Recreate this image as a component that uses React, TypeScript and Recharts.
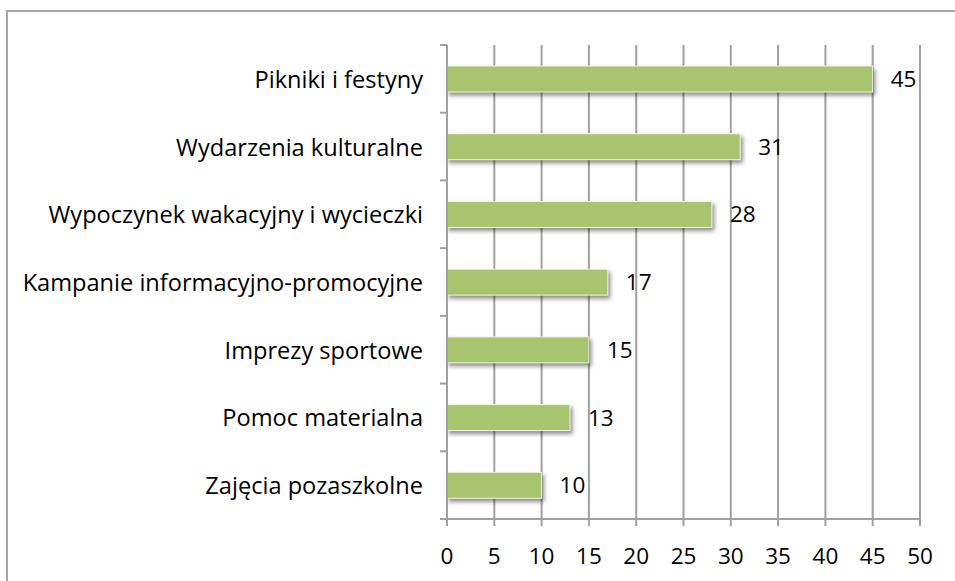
import React from 'react';
import { BarChart, Bar, XAxis, YAxis, CartesianGrid, LabelList } from 'recharts';

const categories = [
  'Pikniki i festyny',
  'Wydarzenia kulturalne',
  'Wypoczynek wakacyjny i wycieczki',
  'Kampanie informacyjno-promocyjne',
  'Imprezy sportowe',
  'Pomoc materialna',
  'Zajęcia pozaszkolne',
];
const values = [45, 31, 28, 17, 15, 13, 10];
const xTicks = [0, 5, 10, 15, 20, 25, 30, 35, 40, 45, 50];

const data = categories.map((name, i) => ({ name, value: values[i] }));

const FONT = '"Open Sans", sans-serif';
const FS = 22.5;
const CAT_FS = 23.6;
const GRAY = '#a0a0a0';

const YTick = (props: any) => {
  const { x, y, payload, index } = props;
  const off = payload.offset || 0;
  const last = index === categories.length - 1;
  return (
    <g>
      <line x1={x - 7} x2={x} y1={y - off} y2={y - off} stroke={GRAY} strokeWidth={2} />
      {last && <line x1={x - 7} x2={x} y1={y + off} y2={y + off} stroke={GRAY} strokeWidth={2} />}
      <text x={x - 24} y={y} dy={9} textAnchor="end" fontSize={CAT_FS} fontFamily={FONT} fill="#000">
        {payload.value}
      </text>
    </g>
  );
};

const BarShape = (props: any) => {
  const { x, y, width, height } = props;
  return (
    <rect
      x={x}
      y={y}
      width={width}
      height={height}
      fill="#a9c46e"
      stroke="#f4f8ec"
      strokeWidth={1}
      style={{ filter: 'drop-shadow(2px 3px 2px rgba(0,0,0,0.45))' }}
    />
  );
};

export default function App() {
  return (
    <div style={{ position: 'absolute', left: 0, top: 0, width: 955, height: 581, overflow: 'hidden', background: '#fff' }}>
      <div
        style={{
          position: 'absolute',
          left: 6,
          top: 10,
          width: 1000,
          height: 600,
          border: '2px solid #a6a6a6',
        }}
      />
      <div style={{ position: 'absolute', left: 0, top: 0 }}>
        <BarChart
          width={955}
          height={581}
          data={data}
          layout="vertical"
          margin={{ top: 45, right: 35, bottom: 0, left: 0 }}
          barCategoryGap="31%"
        >
          <CartesianGrid horizontal={false} vertical={true} stroke={GRAY} strokeWidth={2} />
          <XAxis
            type="number"
            domain={[0, 50]}
            ticks={xTicks}
            interval={0}
            height={62}
            axisLine={{ stroke: GRAY, strokeWidth: 2 }}
            tickLine={{ stroke: GRAY, strokeWidth: 2 }}
            tickSize={7}
            tickMargin={22}
            tick={{ fontSize: FS, fontFamily: FONT, fill: '#000' }}
          />
          <YAxis
            type="category"
            dataKey="name"
            width={447}
            axisLine={{ stroke: GRAY, strokeWidth: 2 }}
            tickLine={false}
            tickSize={0}
            tickMargin={0}
            interval={0}
            tick={<YTick />}
          />
          <Bar dataKey="value" isAnimationActive={false} shape={<BarShape />}>
            <LabelList
              dataKey="value"
              position="right"
              offset={18}
              style={{ fontSize: FS, fontFamily: FONT, fill: '#000' }}
            />
          </Bar>
        </BarChart>
      </div>
    </div>
  );
}
